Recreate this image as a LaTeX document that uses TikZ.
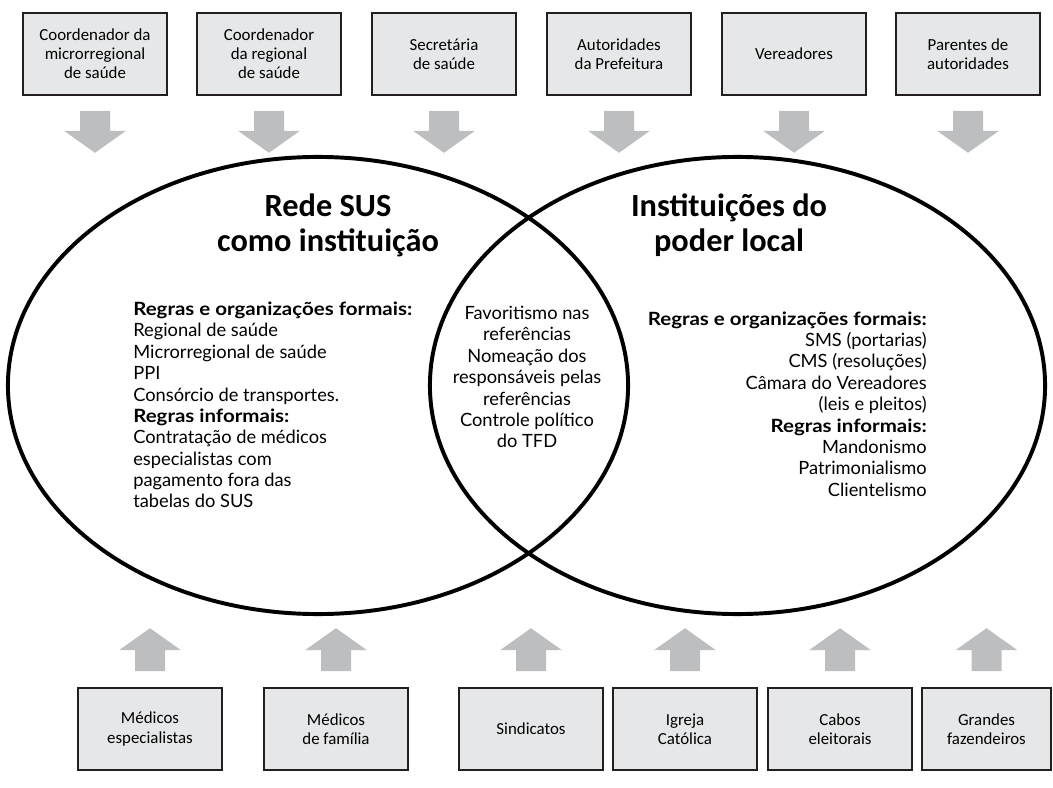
\documentclass[tikz,border=0pt]{standalone}
\usepackage{fontspec}
\setmainfont{Carlito}
\newfontfamily\bodyfont{Lato}[BoldFeatures={FakeStretch=1.12}]
\usetikzlibrary{shapes.geometric, calc}
\definecolor{boxgray}{HTML}{E6E7E8}
\definecolor{arrowgray}{HTML}{BCBEC0}
\definecolor{inkblack}{HTML}{231F20}

\begin{document}
\begin{tikzpicture}[x=0.025cm, y=-0.025cm,
  actor/.style={rectangle, draw=inkblack, line width=1.1pt, fill=boxgray, minimum width=3.6cm, minimum height=2.05cm, align=center, inner sep=2pt, font=\fontsize{12}{13.6}\selectfont},
  venn/.style={ellipse, draw=black, line width=2.8pt, inner sep=0pt, minimum height=11.425cm},
  venntitle/.style={align=center, font=\fontsize{23}{25}\selectfont\bfseries},
  venntext/.style={inner sep=0pt, font=\bodyfont\fontsize{13}{15.2}\selectfont}]
\useasboundingbox (0,0) rectangle (1053,788);

% actors above
\node[actor] (coordmicro) at (95,54) {Coordenador da\\microrregional\\de saúde};
\node[actor] (coordreg) at (269,54) {Coordenador\\da regional\\de saúde};
\node[actor] (secsaude) at (444,54) {Secretária\\de saúde};
\node[actor] (autpref) at (619,54) {Autoridades\\da Prefeitura};
\node[actor] (vereadores) at (794,54) {Vereadores};
\node[actor] (parentes) at (968,54) {Parentes de\\autoridades};

% actors below
\node[actor] (medesp) at (150,729) {Médicos\\especialistas};
\node[actor] (medfam) at (336,729) {Médicos\\de família};
\node[actor] (sindicatos) at (531,729) {Sindicatos};
\node[actor] (igreja) at (685,729) {Igreja\\Católica};
\node[actor] (cabos) at (840,729) {Cabos\\eleitorais};
\node[actor, minimum width=3.225cm] (fazendeiros) at (986.5,729) {Grandes\\fazendeiros};

% the two institutions
\node[venn, minimum width=15.5cm] (sus) at (318,385.5) {};
\node[venn, minimum width=15.375cm] (poderlocal) at (737.5,385.5) {};

\node[venntitle] (sustitle) at (328,225) {Rede SUS\\como instituição};
\node[venntitle] (localtitle) at (729,225) {Instituições do\\poder local};

\node[venntext, align=left, anchor=west] (susrules) at (133,405) {\textbf{Regras e organizações formais:}\\Regional de saúde\\Microrregional de saúde\\PPI\\Consórcio de transportes.\\\textbf{Regras informais:}\\Contratação de médicos\\especialistas com\\pagamento fora das\\tabelas do SUS};
\node[venntext, align=center] (shared) at (527,377) {Favoritismo nas\\referências\\Nomeação dos\\responsáveis pelas\\referências\\Controle político\\do TFD};
\node[venntext, align=right, anchor=east] (localrules) at (927,404) {\textbf{Regras e organizações formais:}\\SMS (portarias)\\CMS (resoluções)\\Câmara do Vereadores\ \\(leis e pleitos)\\\textbf{Regras informais:}\\Mandonismo\\Patrimonialismo\\Clientelismo};

% influence arrows
\foreach \n in {coordmicro,coordreg,secsaude,autpref,vereadores,parentes}
  \fill[arrowgray] ($(\n.south)+(-15,15)$) -- ++(30,0) -- ++(0,20) -- ++(16,0) -- ++(-31,22) -- ++(-31,-22) -- ++(16,0) -- cycle;
\foreach \n in {medesp,medfam,sindicatos,igreja,cabos,fazendeiros}
  \fill[arrowgray] ($(\n.north)+(-15,-16)$) -- ++(30,0) -- ++(0,-21) -- ++(16,0) -- ++(-31,-22) -- ++(-31,22) -- ++(16,0) -- cycle;
\end{tikzpicture}
\end{document}
